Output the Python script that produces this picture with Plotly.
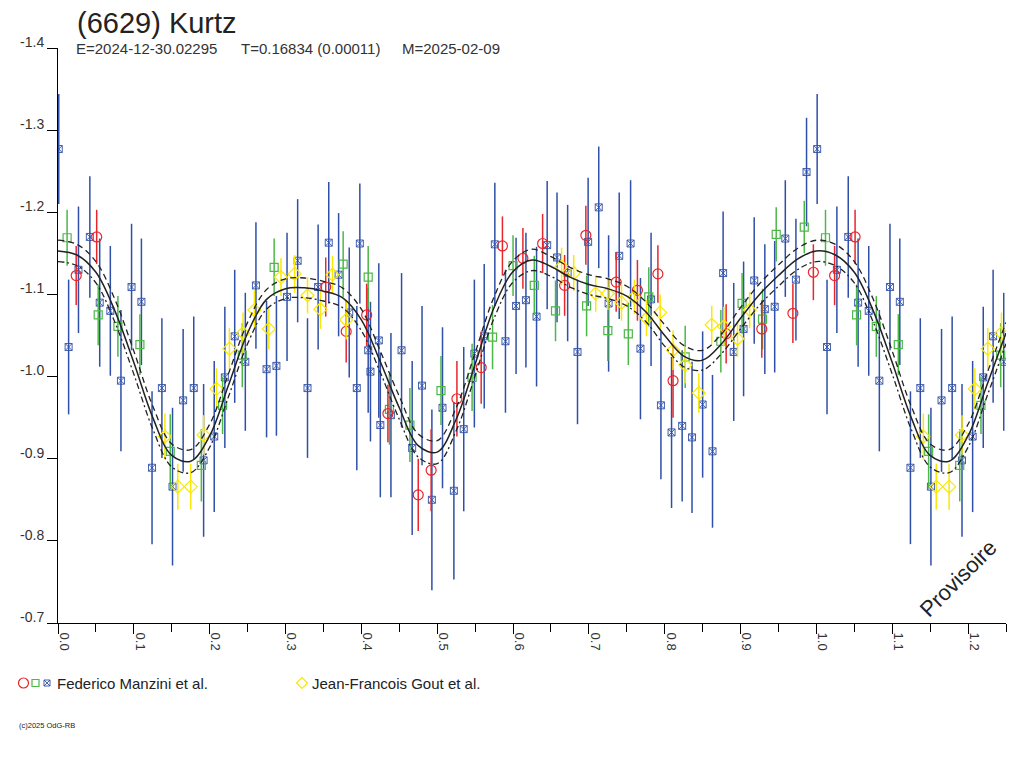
import plotly.graph_objects as go

# ---------------- data ----------------
red_phase = [0.024, 0.051, 0.353, 0.380, 0.407, 0.435, 0.475, 0.492, 0.526, 0.558, 0.586, 0.613,
             0.639, 0.668, 0.696, 0.736, 0.764, 0.791, 0.811, 0.881, 0.928, 0.969, 0.996]
red_mag = [-1.123, -1.170, -1.109, -1.055, -1.075, -0.955, -0.856, -0.886, -0.973, -1.011, -1.159, -1.144,
           -1.162, -1.111, -1.172, -1.115, -1.105, -1.125, -0.995, -1.052, -1.058, -1.077, -1.127]
red_err = [0.036, 0.033, 0.036, 0.038, 0.038, 0.035, 0.044, 0.050, 0.046, 0.044, 0.036, 0.037,
           0.036, 0.037, 0.036, 0.036, 0.037, 0.035, 0.045, 0.036, 0.035, 0.036, 0.034]

green_phase = [0.012, 0.053, 0.079, 0.108, 0.148, 0.189, 0.217, 0.243, 0.285, 0.376, 0.409, 0.437,
               0.464, 0.505, 0.546, 0.573, 0.600, 0.628, 0.656, 0.697, 0.725, 0.752, 0.779, 0.827,
               0.874, 0.902, 0.929, 0.947, 0.984]
green_mag = [-1.169, -1.075, -1.061, -1.039, -0.909, -0.892, -0.965, -1.026, -1.133, -1.137, -1.121, -0.960,
             -0.941, -0.983, -0.999, -1.048, -1.135, -1.111, -1.080, -1.086, -1.056, -1.052, -1.097, -1.024,
             -1.043, -1.089, -1.070, -1.173, -1.182]
green_err = [0.034, 0.037, 0.037, 0.037, 0.045, 0.044, 0.035, 0.039, 0.035, 0.040, 0.038, 0.043,
             0.045, 0.042, 0.041, 0.039, 0.037, 0.036, 0.037, 0.037, 0.037, 0.038, 0.036, 0.038,
             0.038, 0.037, 0.037, 0.033, 0.032]

blue_phase = [0.001, 0.014, 0.027, 0.042, 0.055, 0.069, 0.083, 0.097, 0.110, 0.124,
              0.137, 0.151, 0.165, 0.179, 0.192, 0.206, 0.220, 0.233, 0.247, 0.261,
              0.275, 0.288, 0.302, 0.316, 0.329, 0.343, 0.357, 0.370, 0.384, 0.394,
              0.398, 0.409, 0.412, 0.423, 0.425, 0.439, 0.453, 0.467, 0.480, 0.493,
              0.507, 0.522, 0.535, 0.549, 0.562, 0.576, 0.590, 0.604, 0.617, 0.631,
              0.645, 0.658, 0.672, 0.685, 0.699, 0.713, 0.726, 0.740, 0.755, 0.768,
              0.782, 0.795, 0.809, 0.823, 0.836, 0.850, 0.863, 0.877, 0.891, 0.904,
              0.918, 0.932, 0.945, 0.959, 0.973, 0.987]
blue_mag = [-1.277, -1.036, -1.130, -1.170, -1.090, -1.080, -0.995, -1.109, -1.091, -0.889,
            -0.986, -0.866, -0.971, -0.986, -0.898, -0.927, -0.999, -1.049, -1.018, -1.111,
            -1.009, -1.013, -1.097, -1.141, -0.986, -1.109, -1.163, -1.124, -1.078, -0.986,
            -1.162, -1.032, -1.006, -1.044, -0.941, -0.953, -1.032, -0.913, -0.989, -0.850,
            -0.962, -0.861, -0.936, -1.028, -1.049, -1.161, -1.043, -1.086, -1.093, -1.073,
            -1.160, -1.145, -1.126, -1.030, -1.164, -1.206, -1.089, -1.147, -1.162, -1.034,
            -1.094, -0.965, -0.932, -0.940, -0.926, -0.966, -0.909, -1.126, -1.030, -1.058,
            -1.117, -1.082, -1.085, -1.168, -1.118, -1.249]
blue_err = [0.067, 0.082, 0.077, 0.074, 0.078, 0.079, 0.086, 0.077, 0.077, 0.093,
            0.085, 0.096, 0.087, 0.087, 0.093, 0.092, 0.086, 0.081, 0.084, 0.077,
            0.083, 0.085, 0.078, 0.075, 0.085, 0.076, 0.074, 0.075, 0.079, 0.100,
            0.073, 0.076, 0.085, 0.094, 0.088, 0.100, 0.094, 0.106, 0.097, 0.110,
            0.098, 0.108, 0.100, 0.090, 0.088, 0.075, 0.087, 0.083, 0.082, 0.085,
            0.078, 0.079, 0.083, 0.088, 0.078, 0.074, 0.083, 0.077, 0.077, 0.086,
            0.081, 0.090, 0.092, 0.092, 0.092, 0.089, 0.093, 0.075, 0.084, 0.082,
            0.077, 0.079, 0.080, 0.071, 0.074, 0.066]

yellow_phase = [0.141, 0.158, 0.175, 0.192, 0.209, 0.226, 0.244, 0.259, 0.278, 0.294, 0.312, 0.329,
                0.346, 0.362, 0.380, 0.664, 0.680, 0.709, 0.725, 0.743, 0.760, 0.776, 0.794, 0.811,
                0.827, 0.845, 0.862, 0.878, 0.896, 0.912]
yellow_mag = [-0.927, -0.866, -0.866, -0.929, -0.985, -1.034, -1.053, -1.081, -1.058, -1.121, -1.125, -1.099,
              -1.082, -1.124, -1.069, -1.134, -1.126, -1.101, -1.101, -1.090, -1.097, -1.071, -1.078, -1.032,
              -1.014, -0.980, -1.063, -1.061, -1.046, -1.081]
yellow_err = [0.028, 0.028, 0.028, 0.024, 0.025, 0.025, 0.025, 0.024, 0.025, 0.023, 0.023, 0.022,
              0.024, 0.023, 0.024, 0.023, 0.022, 0.022, 0.020, 0.022, 0.021, 0.022, 0.022, 0.024,
              0.022, 0.024, 0.023, 0.024, 0.022, 0.022]

fit_phase = [0.000, 0.025, 0.050, 0.075, 0.100, 0.125, 0.150, 0.175, 0.200, 0.225,
             0.250, 0.275, 0.300, 0.325, 0.350, 0.375, 0.400, 0.425, 0.450, 0.475,
             0.500, 0.525, 0.550, 0.575, 0.600, 0.625, 0.650, 0.675, 0.700, 0.725,
             0.750, 0.775, 0.800, 0.825, 0.850, 0.875, 0.900, 0.925, 0.950, 0.975, 1.000]
fit_mag = [-1.153, -1.148, -1.127, -1.080, -1.017, -0.950, -0.904, -0.897, -0.928, -0.990,
           -1.053, -1.094, -1.107, -1.108, -1.104, -1.096, -1.069, -1.018, -0.962, -0.916,
           -0.908, -0.948, -1.015, -1.084, -1.128, -1.142, -1.134, -1.121, -1.112, -1.107,
           -1.098, -1.079, -1.050, -1.025, -1.020, -1.040, -1.071, -1.100, -1.123, -1.143, -1.153]
fit_err = [0.013, 0.013, 0.013, 0.014, 0.014, 0.014, 0.014, 0.014, 0.014, 0.014,
           0.013, 0.012, 0.012, 0.012, 0.012, 0.012, 0.013, 0.013, 0.014, 0.014,
           0.014, 0.014, 0.014, 0.013, 0.013, 0.013, 0.012, 0.012, 0.012, 0.012,
           0.012, 0.012, 0.013, 0.013, 0.012, 0.012, 0.013, 0.013, 0.013, 0.013, 0.013]

x_tick_vals = [0.0, 0.1, 0.2, 0.3, 0.4, 0.5, 0.6, 0.7, 0.8, 0.9, 1.0, 1.1, 1.2]
x_tick_labels = ["0.0", "0.1", "0.2", "0.3", "0.4", "0.5", "0.6", "0.7", "0.8", "0.9", "1.0", "1.1", "1.2"]
x_minor_ticks = [0.05, 0.15, 0.25, 0.35, 0.45, 0.55, 0.65, 0.75, 0.85, 0.95, 1.05, 1.15, 1.25]
y_tick_vals = [-1.4, -1.3, -1.2, -1.1, -1.0, -0.9, -0.8, -0.7]
y_tick_labels = ["-1.4", "-1.3", "-1.2", "-1.1", "-1.0", "-0.9", "-0.8", "-0.7"]

X_MAX = 1.25
WRAP = 0.25

# ---------------- helpers ----------------
def wrap(phase, *cols):
    """Repeat the start of the phase (0..WRAP) after phase 1, as the chart does."""
    xs = list(phase)
    out = [list(c) for c in cols]
    for i, p in enumerate(phase):
        if p + 1.0 <= X_MAX and p <= WRAP:
            xs.append(p + 1.0)
            for o, c in zip(out, cols):
                o.append(c[i])
    return (xs, *out)

# page has an 8px body margin: figure is 1016x760 drawn at screen (8,8)
OFF = 8
FIG_W, FIG_H = 1024 - OFF, 768 - OFF
L, R, T, B = 58, 1006, 48, 623      # plot area in screen pixels


def PX(x):
    return (x - L) / (R - L)


def PY(y):
    return (B - y) / (B - T)


FONT = "Liberation Sans, Arial, sans-serif"
RED, GREEN, BLUE, YELLOW = "#e8262b", "#4cb848", "#2f4fa8", "#fbe800"

fig = go.Figure()

series = [
    (blue_phase, blue_mag, blue_err, BLUE, "square-x-open", 7, 0.9),
    (green_phase, green_mag, green_err, GREEN, "square-open", 8, 1.2),
    (red_phase, red_mag, red_err, RED, "circle-open", 10, 1.2),
    (yellow_phase, yellow_mag, yellow_err, YELLOW, "diamond-open", 10, 1.2),
]
for ph, mg, er, col, sym, size, lw in series:
    xs, ys, es = wrap(ph, mg, er)
    fig.add_trace(go.Scatter(
        x=xs, y=ys, mode="markers", showlegend=False,
        marker=dict(symbol=sym, size=size, color=col, line=dict(color=col, width=lw)),
        error_y=dict(type="data", array=es, visible=True, color=col, thickness=1.5, width=0),
    ))

fx, fy, fe = wrap(fit_phase[1:], fit_mag[1:], fit_err[1:])
fx = [fit_phase[0]] + fx
fy = [fit_mag[0]] + fy
fe = [fit_err[0]] + fe
order = sorted(range(len(fx)), key=lambda i: fx[i])
fx = [fx[i] for i in order]
fy = [fy[i] for i in order]
fe = [fe[i] for i in order]

fig.add_trace(go.Scatter(x=fx, y=[m - e for m, e in zip(fy, fe)], mode="lines", showlegend=False,
                         line=dict(color="#222222", width=1.3, dash="6px,4px", shape="spline")))
fig.add_trace(go.Scatter(x=fx, y=[m + e for m, e in zip(fy, fe)], mode="lines", showlegend=False,
                         line=dict(color="#222222", width=1.3, dash="6px,3px,2px,3px", shape="spline")))
fig.add_trace(go.Scatter(x=fx, y=fy, mode="lines", showlegend=False,
                         line=dict(color="#222222", width=1.5, shape="spline")))

# ---------------- legend keys as shapes (paper coordinates) ----------------
shapes = []
LEG_Y = 683


def circ(cx, cy, r, col):
    return dict(type="circle", xref="paper", yref="paper", x0=PX(cx - r), x1=PX(cx + r),
                y0=PY(cy + r), y1=PY(cy - r), line=dict(color=col, width=1.2))


def rect(cx, cy, h, col, lw=1.2):
    return dict(type="rect", xref="paper", yref="paper", x0=PX(cx - h), x1=PX(cx + h),
                y0=PY(cy + h), y1=PY(cy - h), line=dict(color=col, width=lw))


def path(pts, col, lw=1.2, close=True):
    d = "M " + " L ".join(f"{PX(x):.5f},{PY(y):.5f}" for x, y in pts)
    if close:
        d += " Z"
    return dict(type="path", xref="paper", yref="paper", path=d, line=dict(color=col, width=lw))


shapes.append(circ(23.5, LEG_Y, 5, RED))
shapes.append(rect(35.5, LEG_Y, 3.5, GREEN))
shapes.append(rect(47, LEG_Y, 3, BLUE, 0.9))
shapes.append(path([(44, LEG_Y - 3), (50, LEG_Y + 3)], BLUE, 0.9, close=False))
shapes.append(path([(44, LEG_Y + 3), (50, LEG_Y - 3)], BLUE, 0.9, close=False))
shapes.append(path([(302, LEG_Y - 5.5), (307.5, LEG_Y), (302, LEG_Y + 5.5), (296.5, LEG_Y)], YELLOW))

# ---------------- texts ----------------
ann = [
    (76, 23, "(6629) Kurtz", 29, "#222"),
    (75, 48, "E=2024-12-30.02295", 15, "#333"),
    (240, 48, "T=0.16834 (0.00011)", 15, "#333"),
    (401, 48, "M=2025-02-09", 15, "#333"),
    (56, LEG_Y, "Federico Manzini et al.", 15, "#222"),
    (311, LEG_Y, "Jean-Francois Gout et al.", 15, "#222"),
    (18, 725, "(c)2025 OdG-RB", 7.5, "#222"),
]
annotations = []
for x, y, text, size, col in ann:
    annotations.append(dict(xref="paper", yref="paper", x=PX(x), y=PY(y), text=text,
                            xanchor="left", yanchor="middle", showarrow=False, borderpad=0,
                            font=dict(family=FONT, size=size, color=col)))
annotations.append(dict(xref="paper", yref="paper", x=PX(958), y=PY(578), text="Provisoire",
                        textangle=-45, showarrow=False, xanchor="center", yanchor="middle",
                        font=dict(family=FONT, size=22, color="#222")))

fig.update_layout(
    width=FIG_W, height=FIG_H,
    margin=dict(l=L - OFF, r=FIG_W - (R - OFF), t=T - OFF, b=FIG_H - (B - OFF)),
    paper_bgcolor="white", plot_bgcolor="white",
    font=dict(family=FONT, color="#333"),
    xaxis=dict(range=[0, X_MAX], tickmode="array", tickvals=x_tick_vals, ticktext=x_tick_labels,
               tickangle=90, ticks="outside", ticklen=10, tickcolor="black", tickwidth=1,
               showline=True, linecolor="black", linewidth=1, showgrid=False, zeroline=False,
               ticklabelshift=6, ticklabelstandoff=-4,
               tickfont=dict(family=FONT, size=13, color="#333"),
               minor=dict(tickmode="array", tickvals=x_minor_ticks, ticks="outside", ticklen=8,
                          tickcolor="black", tickwidth=1, showgrid=False)),
    yaxis=dict(range=[-0.7, -1.4], tickmode="array", tickvals=y_tick_vals, ticktext=y_tick_labels,
               ticks="outside", ticklen=10, tickcolor="black", tickwidth=1,
               showline=True, linecolor="black", linewidth=1, showgrid=False, zeroline=False,
               ticklabelshift=6,
               tickfont=dict(family=FONT, size=14, color="#333")),
    shapes=shapes,
    annotations=annotations,
    showlegend=False,
)

fig.write_html("out.html")
